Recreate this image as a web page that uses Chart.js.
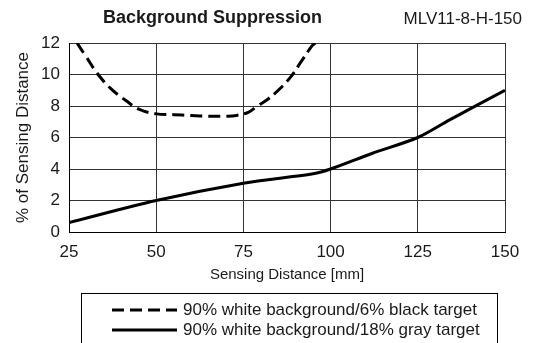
<!DOCTYPE html>
<html>
<head>
<meta charset="utf-8">
<script src="https://cdn.jsdelivr.net/npm/chart.js@4/dist/chart.umd.min.js"></script>
<style>
  html, body { margin: 0; padding: 0; background: #fff; }
  #wrap { width: 546px; height: 343px; position: relative; }
</style>
</head>
<body>
<div id="wrap"><canvas id="c" width="546" height="343"></canvas></div>
<script>
const xTicks = [25, 50, 75, 100, 125, 150];
const yTicks = [0, 2, 4, 6, 8, 10, 12];

// 90% white background / 6% black target
const blackX = [27.3, 30, 33, 37, 41.6, 45, 50, 55, 60, 65, 70, 73, 76.4, 79, 81.8, 85, 88.4, 91.5, 94.6, 95.6];
const blackY = [12.0, 11.1, 10.1, 9.1, 8.3, 7.8, 7.5, 7.45, 7.4, 7.35, 7.35, 7.4, 7.6, 8.0, 8.4, 9.0, 9.8, 10.8, 11.8, 12.0];

// 90% white background / 18% gray target
const grayX = [25, 50, 75, 95, 100, 112, 125, 134, 150];
const grayY = [0.6, 2.0, 3.1, 3.7, 4.0, 5.0, 6.0, 7.1, 9.0];

const labels = ['90% white background/6% black target', '90% white background/18% gray target'];

const FONT = '"Liberation Sans", Arial, sans-serif';
const TXT = '#1a1a1a';

const pts = (xs, ys) => xs.map((x, i) => ({ x: x, y: ys[i] }));

const decor = {
  id: 'decor',
  afterDraw(chart) {
    const ctx = chart.ctx;
    ctx.save();
    ctx.fillStyle = TXT;
    ctx.textBaseline = 'middle';
    ctx.font = 'bold 18px ' + FONT;
    ctx.textAlign = 'left';
    ctx.fillText('Background Suppression', 103, 18);
    ctx.font = '17px ' + FONT;
    ctx.textAlign = 'right';
    ctx.fillText('MLV11-8-H-150', 522, 19);

    // legend box
    ctx.strokeStyle = '#000';
    ctx.lineWidth = 1;
    ctx.setLineDash([]);
    ctx.strokeRect(81.5, 293.5, 416, 60);
    ctx.textAlign = 'left';
    chart.data.datasets.forEach((ds, i) => {
      const y = 310 + i * 20;
      ctx.beginPath();
      ctx.lineWidth = 3;
      ctx.setLineDash(ds.borderDash || []);
      ctx.moveTo(112, y);
      ctx.lineTo(177, y);
      ctx.stroke();
      ctx.setLineDash([]);
      ctx.fillText(ds.label, 183, y);
    });
    ctx.restore();
  }
};

new Chart(document.getElementById('c'), {
  type: 'line',
  data: {
    datasets: [
      {
        label: labels[0],
        data: pts(blackX, blackY),
        borderColor: '#000',
        borderWidth: 3,
        borderDash: [12, 6],
        pointRadius: 0,
        tension: 0.4,
        fill: false
      },
      {
        label: labels[1],
        data: pts(grayX, grayY),
        borderColor: '#000',
        borderWidth: 3,
        pointRadius: 0,
        tension: 0.3,
        fill: false
      }
    ]
  },
  options: {
    responsive: false,
    animation: false,
    layout: { padding: { left: 0, top: 43, right: 41, bottom: 59 } },
    plugins: {
      legend: { display: false },
      title: { display: false },
      tooltip: { enabled: false }
    },
    scales: {
      x: {
        type: 'linear',
        min: xTicks[0],
        max: xTicks[xTicks.length - 1],
        afterBuildTicks: s => { s.ticks = xTicks.map(v => ({ value: v })); },
        afterFit: s => { s.height = 52; },
        grid: { color: '#333', lineWidth: 1, drawTicks: false },
        border: { color: '#000', width: 1 },
        ticks: { color: TXT, font: { size: 17, family: FONT }, padding: 10, maxRotation: 0 },
        title: { display: true, text: 'Sensing Distance [mm]', color: TXT, font: { size: 15, family: FONT }, padding: { top: 0, bottom: 0 } }
      },
      y: {
        min: yTicks[0],
        max: yTicks[yTicks.length - 1],
        afterBuildTicks: s => { s.ticks = yTicks.map(v => ({ value: v })); },
        afterFit: s => { s.width = 69; },
        grid: { color: '#333', lineWidth: 1, drawTicks: false },
        border: { color: '#000', width: 1 },
        ticks: { color: TXT, font: { size: 17, family: FONT }, padding: 9 },
        title: { display: true, text: '% of Sensing Distance', color: TXT, font: { size: 17, family: FONT }, padding: { top: 13, bottom: 0 } }
      }
    }
  },
  plugins: [decor]
});
</script>
</body>
</html>
